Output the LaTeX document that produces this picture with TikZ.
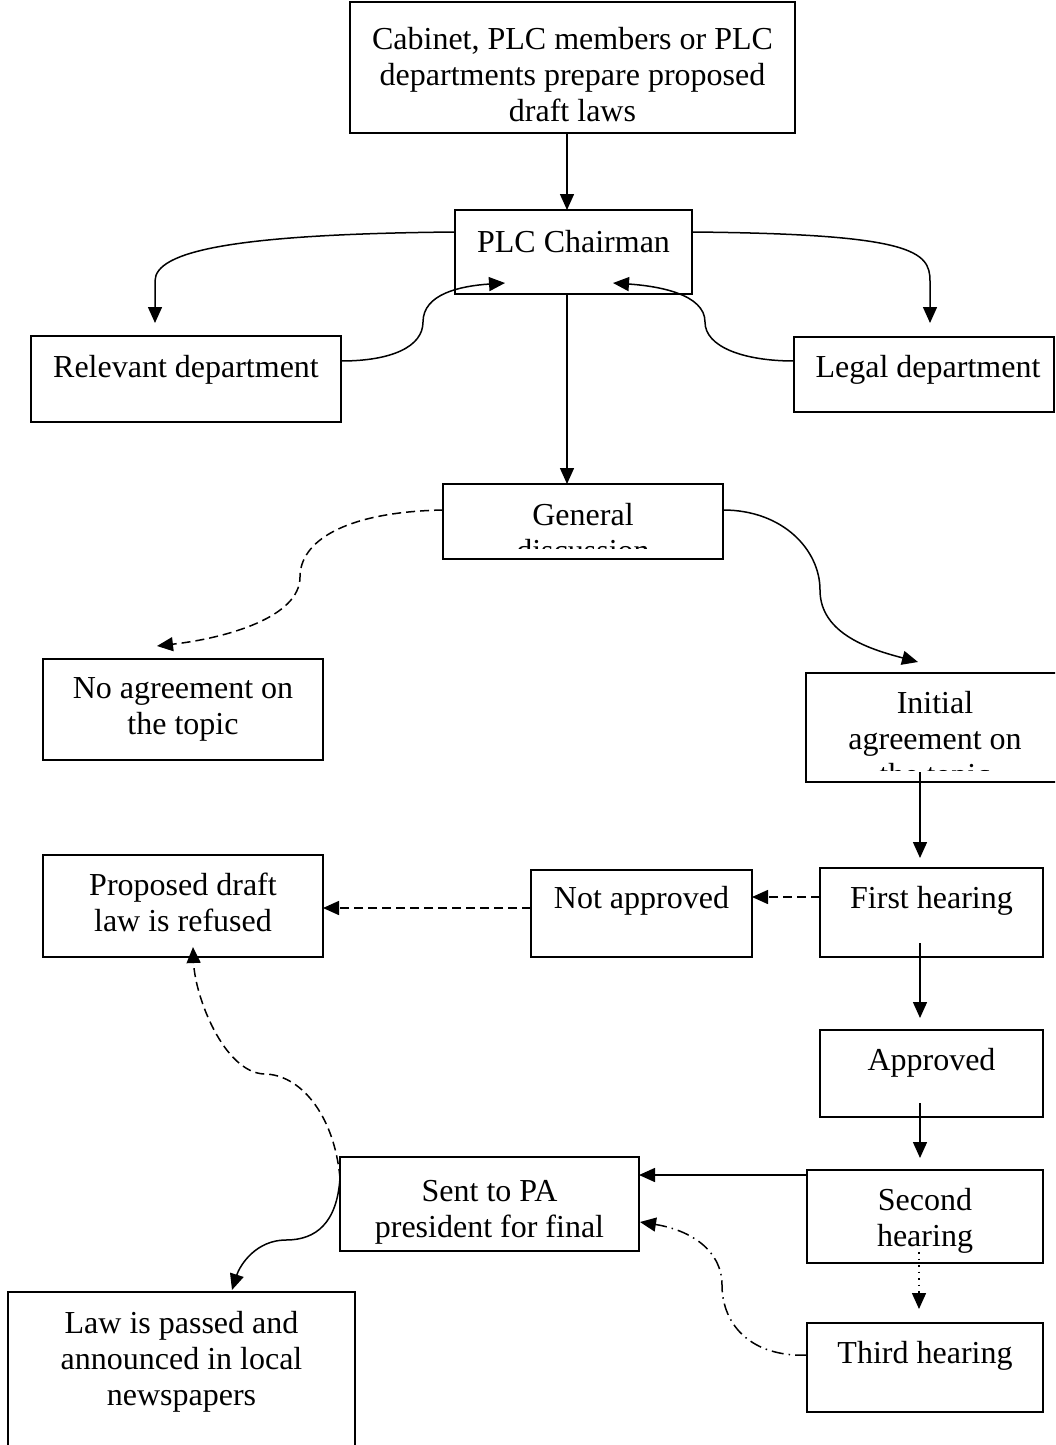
\documentclass[tikz,border=0pt]{standalone}
\usepackage{fontspec}
\setmainfont{Liberation Serif}
\usetikzlibrary{arrows.meta,calc}

\begin{document}
\begin{tikzpicture}[x=1pt,y=-1pt,
  box/.style={draw, line width=1.6pt, inner sep=0pt, outer sep=0pt},
  lbl/.style={font=\fontsize{32}{36}\selectfont, align=center, inner sep=0pt,
              anchor=north, yshift=25.2pt},
  arr/.style={line width=1.5pt, -{Triangle[length=16pt,width=14pt]}},
  dashline/.style={dash pattern=on 9pt off 5pt},
  dashdotline/.style={dash pattern=on 12pt off 5pt on 1.5pt off 5pt},
  dotline/.style={dash pattern=on 1.5pt off 5pt}]

\useasboundingbox (0,0) rectangle (1055,1445);
\fill[white] (0,0) rectangle (1055,1445);
\clip (0,0) rectangle (1055,1445);

% boxes
\node[box, minimum width=445pt, minimum height=131pt] (top)     at (572.5,67.5) {};
\node[box, minimum width=237pt, minimum height=84pt]  (chair)   at (573.5,252) {};
\node[box, minimum width=310pt, minimum height=86pt]  (rel)     at (186,379) {};
\node[box, minimum width=260pt, minimum height=75pt]  (legal)   at (924,374.5) {};
\node[box, minimum width=280pt, minimum height=75pt]  (gen)     at (583,521.5) {};
\node[box, minimum width=280pt, minimum height=101pt] (noag)    at (183,709.5) {};
\node[box, minimum width=258pt, minimum height=109pt] (init)    at (935,727.5) {};
\node[box, minimum width=280pt, minimum height=102pt] (refused) at (183,906) {};
\node[box, minimum width=221pt, minimum height=87pt]  (notap)   at (641.5,913.5) {};
\node[box, minimum width=223pt, minimum height=89pt]  (first)   at (931.5,912.5) {};
\node[box, minimum width=223pt, minimum height=87pt]  (appr)    at (931.5,1073.5) {};
\node[box, minimum width=299pt, minimum height=94pt]  (sent)    at (489.5,1204) {};
\node[box, minimum width=236pt, minimum height=93pt]  (second)  at (925,1216.5) {};
\node[box, minimum width=236pt, minimum height=89pt]  (third)   at (925,1367.5) {};
\node[box, minimum width=347pt, minimum height=188pt] (law)     at (181.5,1386) {};

% texts (first baseline given)
\node[lbl] (top-t)     at (572.5,49)  {\strut Cabinet, PLC members or PLC\\departments prepare proposed\\draft laws\strut};
\node[lbl] (chair-t)   at (573.5,252) {\strut PLC Chairman\strut};
\node[lbl] (rel-t)     at (186,377)   {\strut Relevant department\strut};
\node[lbl] (legal-t)   at (928,377)   {\strut Legal department\strut};
\begin{scope}
  \clip (gen.north west) rectangle ($(gen.south east)+(0,-11)$);
  \node[lbl] (gen-t) at (583,525) {\strut General\\discussion\strut};
\end{scope}
\node[lbl] (noag-t)    at (183,698)   {\strut No agreement on\\the topic\strut};
\begin{scope}
  \clip (init.north west) rectangle ($(init.south east)+(0,-12)$);
  \node[lbl] (init-t) at (935,713) {\strut Initial\\agreement on\\the topic\strut};
\end{scope}
\node[lbl] (refused-t) at (183,895)   {\strut Proposed draft\\law is refused\strut};
\node[lbl] (notap-t)   at (641.5,908) {\strut Not approved\strut};
\node[lbl] (first-t)   at (931.5,908) {\strut First hearing\strut};
\node[lbl] (appr-t)    at (931.5,1070) {\strut Approved\strut};
\node[lbl] (sent-t)    at (489.5,1201) {\strut Sent to PA\\president for final\strut};
\node[lbl] (second-t)  at (925,1210)  {\strut Second\\hearing\strut};
\node[lbl] (third-t)   at (925,1363)  {\strut Third hearing\strut};
\node[lbl] (law-t)     at (181.5,1333) {\strut Law is passed and\\announced in local\\newspapers\strut};

% connectors
\draw[arr] ($(top.south)+(-5.5,0)$) -- ($(chair.north)+(-6.5,0)$);

\draw[arr] ($(chair.west)+(0,-20)$) .. controls +(-220,2) and +(0,-30) .. ($(rel.north)+(-31,-55)$)
  -- ($(rel.north)+(-31,-13)$);
\draw[arr] ($(rel.east)+(0,-18)$) .. controls +(50,0) and +(0,25) .. ($(rel.east)+(82,-57)$)
  .. controls +(0,-28) and +(-45,3) .. ($(chair.south)+(-68.5,-11)$);

\draw[arr] ($(chair.east)+(0,-20)$) .. controls +(220,2) and +(0,-30) .. ($(legal.north)+(6,-56)$)
  -- ($(legal.north)+(6,-14)$);
\draw[arr] ($(legal.west)+(0,-13.5)$) .. controls +(-50,0) and +(0,25) .. ($(legal.west)+(-89,-52.5)$)
  .. controls +(0,-28) and +(45,3) .. ($(chair.south)+(39.5,-11)$);

\draw[arr] ($(chair.south)+(-6.5,0)$) -- ($(gen.north)+(-16,0)$);

\draw[arr, dashline] ($(gen.west)+(0,-11.5)$) .. controls +(-100,2) and +(0,-35) .. ($(gen.west)+(-143,55.5)$)
  .. controls +(0,40) and +(70,-8) .. ($(noag.north)+(-26,-13)$);
\draw[arr] ($(gen.east)+(0,-11.5)$) .. controls +(60,0) and +(0,-40) .. ($(gen.east)+(97,68.5)$)
  .. controls +(0,45) and +(-45,-12) .. ($(init.north)+(-17,-11)$);

\draw[arr] ($(init.south)+(-15,-10)$) -- ($(first.north)+(-11.5,-10)$);
\draw[arr, dashline] ($(first.west)+(0,-15.5)$) -- ($(notap.east)+(0,-16.5)$);
\draw[arr, dashline] ($(notap.west)+(0,-5.5)$) -- ($(refused.east)+(0,2)$);
\draw[arr] ($(first.south)+(-11.5,-14)$) -- ($(appr.north)+(-11.5,-12)$);
\draw[arr] ($(appr.south)+(-11.5,-14)$) -- ($(second.north)+(-5,-12)$);
\draw[arr] ($(second.west)+(0,-41.5)$) -- ($(sent.east)+(0,-29)$);
\draw[arr, dotline] ($(second.south)+(-6,-11)$) -- ($(third.north)+(-6,-14)$);

\draw[arr, dashdotline] ($(third.west)+(0,-12.5)$) -- ++(-12,0)
  .. controls +(-50,-3) and +(0,35) .. ($(third.west)+(-85,-82.5)$)
  .. controls +(0,-35) and +(50,8) .. ($(sent.east)+(1,18)$);

\draw[arr, dashline] ($(sent.west)+(0,-26)$) .. controls +(-6,-65) and +(35,0) .. ($(sent.west)+(-76,-130)$)
  .. controls +(-40,-2) and +(2,50) .. ($(refused.south)+(10,-10)$);
\draw[arr] ($(sent.west)+(0,-26)$) .. controls +(-3,45) and +(30,0) .. ($(sent.west)+(-54,36)$)
  .. controls +(-30,0) and +(8,-25) .. ($(law.north)+(50.5,-2)$);

\end{tikzpicture}
\end{document}
